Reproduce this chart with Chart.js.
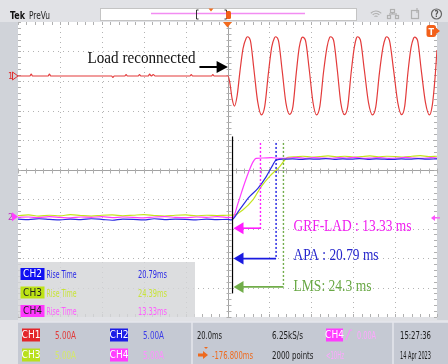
<!DOCTYPE html>
<html><head><meta charset="utf-8">
<script src="https://cdn.jsdelivr.net/npm/chart.js@4.4.0/dist/chart.umd.min.js"></script>
<style>html,body{margin:0;padding:0;background:#dfe0e4;}canvas{display:block}</style>
</head><body>
<canvas id="scope" width="448" height="364"></canvas>
<script>
// Horizontal axis: time in ms (20 ms/div, trigger at 0). Vertical axis: screen divisions.
const timeSpan = [-100, 100];
const divSpan = [-5, 5];

// CH1 – load current, flat before reconnection, then AC
const ch1Trace = [
  [-100,3.17],[-94.3,3.17],[-93.7,3.23],[-93.1,3.17],[-85.6,3.17],[-85,3.23],[-84.4,3.17],
  [-55.3,3.17],[-54.7,3.12],[-54.1,3.17],[-49,3.17],[-48.4,3.22],[-47.8,3.17],[-42.6,3.17],[-42,3.22],
  [-41.4,3.17],[-37.8,3.17],[-37.2,3.23],[-36.4,3.17],[-35.4,3.22],[-34.6,3.17],[-17.9,3.17],[-17.3,3.22],
  [-16.7,3.17],[-7.6,3.17],[-7,3.22],[-6.4,3.17],[0.3,3.17],
  [1.2,2.9],[2.2,2.4],[3.3,2.15],[4.6,2.5],[5.9,3.3],[7.4,4.1],[8.9,4.45],[9.5,4.5],[10.9,4.38],[12.6,3.4],[14.4,2.3],[16.2,1.85],
  [17.8,2.15],[19.5,3.25],[21.1,4.15],[22.4,4.46],[22.9,4.5],[24.3,4.38],[26.1,3.35],[27.9,2.25],[29.6,1.87],
  [31.2,2.12],[32.8,3.25],[34.2,4.12],[35.3,4.45],[35.8,4.49],[37.2,4.38],[39,3.4],[40.8,2.28],[42.5,1.85],
  [44.1,2.15],[45.8,3.28],[47.5,4.15],[48.7,4.47],[49.2,4.5],[50.6,4.39],[52.4,3.38],[54.1,2.25],[55.8,1.86],
  [57.4,2.14],[59,3.27],[60.5,4.13],[61.5,4.45],[62,4.5],[63.4,4.4],[65.3,3.38],[67.3,2.27],[69.2,1.85],
  [70.8,2.13],[72.5,3.26],[74.2,4.14],[75.4,4.46],[75.9,4.5],[77.3,4.38],[79.3,3.36],[81.3,2.26],[83.1,1.86],
  [84.6,2.15],[86.1,3.27],[87.6,4.13],[88.8,4.45],[89.3,4.49],[90.7,4.38],[92.5,3.36],[94.5,2.27],[96.4,1.85],
  [97.8,2.2],[99,3.05],[100,4.05]
];

// CH2 – APA
const ch2Trace = [
  [-100,-1.68],[-95,-1.70],[-90,-1.67],[-85,-1.69],[-80,-1.71],[-75,-1.68],[-70,-1.70],[-65,-1.67],[-60,-1.69],[-55,-1.72],
  [-50,-1.68],[-45,-1.69],[-40,-1.71],[-35,-1.67],[-30,-1.70],[-25,-1.68],[-20,-1.69],[-15,-1.71],[-10,-1.68],[-5,-1.70],[0,-1.69],
  [1.8,-1.71],[5.7,-1.37],[10.5,-0.92],[14.5,-0.64],[18.5,-0.24],[21.6,0.15],[23.2,0.32],
  [27,0.35],[31,0.36],[35,0.34],[39,0.36],[43,0.35],[47,0.37],[51,0.34],[55,0.36],[59,0.35],[63,0.37],[67,0.34],
  [71,0.36],[75,0.35],[79,0.34],[83,0.36],[87,0.35],[91,0.37],[95,0.35],[100,0.36]
];

// CH3 – LMS
const ch3Trace = [
  [-100,-1.56],[-95,-1.54],[-90,-1.58],[-85,-1.55],[-80,-1.57],[-75,-1.53],[-70,-1.56],[-65,-1.58],[-60,-1.55],[-55,-1.54],
  [-50,-1.57],[-45,-1.55],[-40,-1.53],[-35,-1.56],[-30,-1.58],[-25,-1.55],[-20,-1.54],[-15,-1.57],[-10,-1.55],[-5,-1.56],[0,-1.55],
  [3.3,-1.54],[7.3,-1.37],[12.1,-1.03],[16.1,-0.58],[20.0,-0.24],[24.8,0.09],[28.8,0.41],
  [32,0.43],[36,0.45],[40,0.42],[44,0.44],[48,0.46],[52,0.43],[56,0.45],[60,0.42],[64,0.44],[68,0.46],[72,0.43],
  [76,0.45],[80,0.44],[84,0.42],[88,0.45],[92,0.47],[96,0.44],[100,0.45]
];

// CH4 – GRF-LAD
const ch4Trace = [
  [-100,-1.62],[-95,-1.61],[-90,-1.63],[-85,-1.60],[-80,-1.62],[-75,-1.64],[-70,-1.61],[-65,-1.62],[-60,-1.60],[-55,-1.63],
  [-50,-1.61],[-45,-1.62],[-40,-1.64],[-35,-1.61],[-30,-1.60],[-25,-1.62],[-20,-1.63],[-15,-1.61],[-10,-1.62],[-5,-1.60],[0,-1.62],
  [2.5,-1.63],[5,-1.15],[7.5,-0.6],[10,-0.1],[12.2,0.26],[13.7,0.38],
  [17,0.39],[21,0.40],[25,0.38],[29,0.39],[33,0.41],[37,0.38],[41,0.40],[45,0.39],[49,0.38],[53,0.40],[57,0.39],
  [61,0.41],[65,0.38],[69,0.39],[73,0.40],[77,0.38],[81,0.39],[85,0.41],[89,0.39],[93,0.38],[97,0.40],[100,0.39]
];

// Rise-time measurement table
const measChannels = ['CH2', 'CH3', 'CH4'];
const measNames = ['Rise Time', 'Rise Time', 'Rise Time'];
const measValues = [20.79, 24.39, 13.33];

// Callouts: rise time per controller, measured from the step start
const riseStart = 2.4;
const calloutNames = ['GRF-LAD', 'APA', 'LMS'];
const calloutRise = [13.33, 20.79, 24.3];
const calloutLabels = ['GRF-LAD : 13.33 ms', 'APA : 20.79 ms', 'LMS: 24.3 ms'];
const eventLabel = 'Load reconnected';

// Acquisition settings
const chNames = ['CH1', 'CH2', 'CH3', 'CH4'];
const chScales = ['5.00A', '5.00A', '5.00A', '5.00A'];
const acqInfo = ['20.0ms', '6.25kS/s', '-176.800ms', '2000 points'];
const trigInfo = ['CH4', '0.00A', '<10Hz'];
const stamp = ['15:27:36', '14 Apr 2023'];

const UI = "'Liberation Sans Narrow','DejaVu Sans Condensed','Roboto Condensed',Roboto,sans-serif";
const SERIF = "'Liberation Serif','Times New Roman',serif";

function txt(ctx, s, x, y, color, font, targetW, align) {
  ctx.save();
  ctx.font = font;
  ctx.fillStyle = color;
  ctx.textBaseline = 'alphabetic';
  ctx.textAlign = 'left';
  const w = ctx.measureText(s).width;
  const sx = targetW ? targetW / w : 1;
  let x0 = x;
  if (align === 'right') x0 = x - w * sx;
  ctx.translate(x0, y);
  ctx.scale(sx, 1);
  ctx.fillText(s, 0, 0);
  ctx.restore();
}
function poly(ctx, pts, fill, stroke) {
  ctx.beginPath();
  ctx.moveTo(pts[0][0], pts[0][1]);
  for (let i = 1; i < pts.length; i++) ctx.lineTo(pts[i][0], pts[i][1]);
  ctx.closePath();
  if (fill) { ctx.fillStyle = fill; ctx.fill(); }
  if (stroke) { ctx.strokeStyle = stroke; ctx.stroke(); }
}
function seg(ctx, x1, y1, x2, y2) { ctx.beginPath(); ctx.moveTo(x1, y1); ctx.lineTo(x2, y2); ctx.stroke(); }
function badge(ctx, x, y, w, h, bg, label, fg) {
  ctx.fillStyle = bg; ctx.fillRect(x, y, w, h);
  ctx.save();
  ctx.font = '10px ' + UI; ctx.fillStyle = fg; ctx.textAlign = 'center'; ctx.textBaseline = 'middle';
  ctx.fillText(label, x + w / 2, y + h / 2 + 0.5);
  ctx.restore();
}

const scopePlugin = {
  id: 'scope',
  beforeDraw(chart) {
    const ctx = chart.ctx, a = chart.chartArea;
    const xs = chart.scales.x, ys = chart.scales.y;
    ctx.save();
    ctx.fillStyle = '#e1e2e6'; ctx.fillRect(0, 0, 448, 364);
    ctx.fillStyle = '#d0d3d9';
    ctx.fillRect(0, a.top, a.left, a.bottom - a.top + 3);
    ctx.fillRect(a.right, a.top, 448 - a.right, a.bottom - a.top + 3);
    ctx.fillStyle = '#ffffff'; ctx.fillRect(a.left, a.top, a.right - a.left, a.bottom - a.top);

    // dotted graticule
    ctx.strokeStyle = '#b3b3b3'; ctx.lineWidth = 1; ctx.setLineDash([1, 4]);
    for (let k = -4; k <= 4; k++) {
      if (k === 0) continue;
      const x = Math.round(xs.getPixelForValue(k * 20)) + 0.5;
      seg(ctx, x, a.top, x, a.bottom);
      const y = Math.round(ys.getPixelForValue(k)) + 0.5;
      seg(ctx, a.left, y, a.right, y);
    }
    ctx.setLineDash([]);
    const x0 = Math.round(xs.getPixelForValue(0)) + 0.5, y0 = Math.round(ys.getPixelForValue(0)) + 0.5;
    ctx.strokeStyle = '#a2a2a2';
    seg(ctx, x0, a.top, x0, a.bottom);
    seg(ctx, a.left, y0, a.right, y0);
    // minor ticks on the frame and the centre cross
    ctx.strokeStyle = '#b0b0b0';
    for (let k = -25; k <= 25; k++) {
      const x = Math.round(xs.getPixelForValue(k * 4)) + 0.5;
      seg(ctx, x, a.top, x, a.top + 3);
      seg(ctx, x, a.bottom - 3, x, a.bottom);
      seg(ctx, x, y0 - 2, x, y0 + 3);
      const y = Math.round(ys.getPixelForValue(k / 5)) + 0.5;
      seg(ctx, a.left, y, a.left + 3, y);
      seg(ctx, a.right - 3, y, a.right, y);
      seg(ctx, x0 - 2, y, x0 + 3, y);
    }
    ctx.restore();
  },
  afterDraw(chart) {
    const ctx = chart.ctx, a = chart.chartArea;
    const X = v => chart.scales.x.getPixelForValue(v);
    const Y = v => chart.scales.y.getPixelForValue(v);
    ctx.save();

    // step start marker
    const xs0 = X(riseStart);
    ctx.strokeStyle = '#000'; ctx.lineWidth = 1.2;
    seg(ctx, xs0, Y(1.12), xs0, Y(-4.2));

    // rise-time cursors, arrows and labels
    const cColors = ['#ff1cff', '#1a1ae0', '#71ad4a'];
    const tColors = ['#f020f0', '#2626cc', '#69a845'];
    const cTop = [0.9, 0.9, 0.9];
    const cBottom = [-2.05, -3.0, -4.0];
    const aLevel = [-1.99, -3.02, -3.98];
    const tBase = [230.5, 260, 290.5];
    const tWidth = [118, 85, 78];
    for (let i = 0; i < calloutRise.length; i++) {
      const xc = X(riseStart + calloutRise[i]);
      ctx.strokeStyle = cColors[i]; ctx.lineWidth = 1.4; ctx.setLineDash([2, 2]);
      seg(ctx, xc, Y(cTop[i]), xc, Y(cBottom[i]));
      ctx.setLineDash([]);
      const ya = Y(aLevel[i]);
      ctx.lineWidth = 1.6;
      seg(ctx, xc, ya, xs0 + 9, ya);
      poly(ctx, [[xs0 + 1, ya], [xs0 + 11, ya - 6], [xs0 + 11, ya + 6]], cColors[i]);
      txt(ctx, calloutLabels[i], X(31.5), tBase[i], tColors[i], '17px ' + SERIF, tWidth[i]);
    }

    // event annotation
    txt(ctx, eventLabel, X(-66.8), 62.5, '#111', '17px ' + SERIF, 108);
    ctx.strokeStyle = '#000'; ctx.lineWidth = 2;
    seg(ctx, X(-13.4), 67, X(-4.5), 67);
    poly(ctx, [[X(0.2), 67], [X(-5.2), 61], [X(-5.2), 73]], '#000');

    // measurement table
    ctx.fillStyle = 'rgba(212,213,216,0.82)';
    ctx.fillRect(a.left, 262, 177, a.bottom - 262);
    const mBg = ['#1010f2', '#bde314', '#ff38ff'];
    const mFg = ['#ffffff', '#222222', '#222222'];
    const mTxt = ['#2a2ae6', '#c9e43a', '#ff5cff'];
    for (let i = 0; i < measChannels.length; i++) {
      const yb = 268 + i * 18.5;
      badge(ctx, 20.5, yb, 24, 12, mBg[i], measChannels[i], mFg[i]);
      txt(ctx, measNames[i], 46.5, yb + 10, mTxt[i], '10px ' + UI, 30);
      txt(ctx, measValues[i].toFixed(2) + 'ms', 167, yb + 10, mTxt[i], '10px ' + UI, 29, 'right');
    }

    // channel offset markers
    ctx.lineWidth = 1;
    txt(ctx, '1', 8, Y(3.17) + 3.5, '#e03030', '9px ' + UI);
    poly(ctx, [[12.5, Y(3.17) - 4], [12.5, Y(3.17) + 4], [18, Y(3.17)]], null, '#e03030');
    txt(ctx, '2', 8, Y(-1.6) + 3.5, '#c030c0', '9px ' + UI);
    poly(ctx, [[12, Y(-1.6) - 4.5], [12, Y(-1.6) + 4.5], [18, Y(-1.6)]], '#ff40ff');
    // trigger level marker on the right
    ctx.strokeStyle = '#ff50ff'; ctx.lineWidth = 1.2;
    seg(ctx, 433, Y(-1.64), 440, Y(-1.64));
    poly(ctx, [[431, Y(-1.64)], [435, Y(-1.64) - 3], [435, Y(-1.64) + 3]], '#ff50ff');
    // trigger position marker
    const xt = X(0);
    poly(ctx, [[xt - 4.5, a.top], [xt + 4.5, a.top], [xt, a.top + 5.5]], '#f26a1c');
    // trigger flag
    ctx.fillStyle = '#f2601a';
    ctx.beginPath(); ctx.roundRect(426.5, 25, 9.5, 12, 2.5); ctx.fill();
    poly(ctx, [[435.5, 27.5], [440, 31], [435.5, 34.5]], '#f2601a');
    ctx.save(); ctx.font = 'bold 9px ' + UI; ctx.fillStyle = '#fff'; ctx.textAlign = 'center';
    ctx.fillText('T', 431.3, 34.5); ctx.restore();

    // top bar
    ctx.fillStyle = '#e1e2e6'; ctx.fillRect(0, 0, 448, a.top);
    txt(ctx, 'Tek', 10, 19, '#111', 'bold 11px ' + UI, 15);
    txt(ctx, 'PreVu', 29, 19, '#222', '10px ' + UI, 21);
    ctx.fillStyle = '#fff'; ctx.fillRect(100, 8, 257, 13);
    ctx.strokeStyle = '#c4c4c4'; ctx.lineWidth = 1; ctx.strokeRect(100.5, 8.5, 256, 12);
    ctx.strokeStyle = '#f28cf2'; ctx.lineWidth = 1.5; seg(ctx, 151, 13.5, 305, 13.5);
    ctx.strokeStyle = '#333'; ctx.lineWidth = 1;
    seg(ctx, 196.5, 10, 196.5, 19); seg(ctx, 196.5, 10, 198.5, 10); seg(ctx, 196.5, 19, 198.5, 19);
    seg(ctx, 226.5, 10, 226.5, 19); seg(ctx, 226.5, 10, 224.5, 10); seg(ctx, 226.5, 19, 224.5, 19);
    poly(ctx, [[208.5, 8.5], [213.5, 8.5], [211, 11.5]], '#f26a1c');
    ctx.fillStyle = '#f2601a'; ctx.beginPath(); ctx.roundRect(226, 11, 5, 8, 1.5); ctx.fill();
    // status icons
    ctx.strokeStyle = '#b0b0b0'; ctx.lineWidth = 1.2;
    for (let r = 2; r <= 7; r += 2.5) { ctx.beginPath(); ctx.arc(376, 18, r, -2.4, -0.74); ctx.stroke(); }
    ctx.strokeRect(390.5, 9.5, 4, 3); ctx.strokeRect(387.5, 15.5, 3, 3); ctx.strokeRect(395.5, 15.5, 3, 3);
    seg(ctx, 392.5, 12.5, 392.5, 14); seg(ctx, 389, 14, 397, 14);
    ctx.strokeRect(411.5, 10.5, 7, 8);
    seg(ctx, 417, 8, 417, 13);
    ctx.strokeStyle = '#666'; ctx.beginPath(); ctx.arc(436.5, 14, 5, 0, Math.PI * 2); ctx.stroke();
    ctx.save(); ctx.font = 'bold 8px ' + UI; ctx.fillStyle = '#555'; ctx.textAlign = 'center';
    ctx.fillText('?', 436.5, 17); ctx.restore();

    // bottom settings panel
    ctx.fillStyle = '#e1e2e6'; ctx.fillRect(0, 320, 448, 44);
    ctx.fillStyle = '#c5c9d3'; ctx.fillRect(18, 322, 430, 42);
    ctx.strokeStyle = '#e4e6ec'; ctx.lineWidth = 1.5;
    seg(ctx, 192, 322, 192, 364); seg(ctx, 393, 322, 393, 364);
    seg(ctx, 18, 322, 448, 322);
    const r1 = 339, r2 = 359;
    const bBg = ['#e3262a', '#1c1ce6', '#b9e01c', '#ff3cff'];
    const bTx = ['#e23a3a', '#3c3ce8', '#d5e86a', '#ff8eff'];
    const bx = [22, 110, 22, 110], by = [r1 - 10.5, r1 - 10.5, r2 - 10.5, r2 - 10.5], tx = [55, 143, 55, 143];
    for (let i = 0; i < 4; i++) {
      badge(ctx, bx[i], by[i], 18, 13, bBg[i], chNames[i], '#ffffff');
      txt(ctx, chScales[i], tx[i], by[i] + 10.5, bTx[i], '10.5px ' + UI, 21);
    }
    txt(ctx, acqInfo[0], 197, r1, '#1c1c1c', '10.5px ' + UI, 25);
    txt(ctx, acqInfo[1], 272, r1, '#1c1c1c', '10.5px ' + UI, 31);
    txt(ctx, acqInfo[2], 212, r2, '#ee6a1e', '10.5px ' + UI, 41);
    txt(ctx, acqInfo[3], 272, r2, '#1c1c1c', '10.5px ' + UI, 41.5);
    // horizontal position arrow
    ctx.fillStyle = '#ee6a1e'; ctx.fillRect(198, r2 - 5.5, 5, 3);
    poly(ctx, [[203, r2 - 8], [208, r2 - 4], [203, r2]], '#ee6a1e');
    poly(ctx, [[204, r2 - 12], [208, r2 - 12], [206, r2 - 10]], '#ee6a1e');
    // trigger settings
    badge(ctx, 326, r1 - 10.5, 17, 13, '#ff3cff', trigInfo[0], '#ffffff');
    ctx.strokeStyle = '#ff8eff'; ctx.lineWidth = 1.2;
    seg(ctx, 346, r1 + 1, 350, r1 - 9); seg(ctx, 350, r1 - 9, 352, r1 - 9);
    txt(ctx, trigInfo[1], 357, r1, '#ffa6ff', '10.5px ' + UI, 19);
    txt(ctx, trigInfo[2], 326, r2, '#ffa6ff', '10.5px ' + UI, 18);
    txt(ctx, stamp[0], 400, r1, '#1c1c1c', '10.5px ' + UI, 31);
    txt(ctx, stamp[1], 400, r2, '#1c1c1c', '10.5px ' + UI, 31);
    ctx.restore();
  }
};

const toXY = tr => tr.map(p => ({ x: p[0], y: p[1] }));
const traceStyle = (color) => ({
  borderColor: color, borderWidth: 1.2, pointRadius: 0, fill: false,
  cubicInterpolationMode: 'monotone'
});

new Chart(document.getElementById('scope'), {
  type: 'line',
  data: {
    datasets: [
      Object.assign({ label: 'CH2', data: toXY(ch2Trace) }, traceStyle('#2a2ae2')),
      Object.assign({ label: 'CH4', data: toXY(ch4Trace) }, traceStyle('#ff3cff')),
      Object.assign({ label: 'CH3', data: toXY(ch3Trace) }, traceStyle('#c4e41e')),
      Object.assign({ label: 'CH1', data: toXY(ch1Trace) }, traceStyle('#e33b3b'))
    ]
  },
  options: {
    responsive: false,
    animation: false,
    events: [],
    layout: { padding: { left: 18, right: 11, top: 22, bottom: 47 } },
    plugins: { legend: { display: false }, tooltip: { enabled: false } },
    scales: {
      x: { type: 'linear', min: timeSpan[0], max: timeSpan[1], display: false },
      y: { type: 'linear', min: divSpan[0], max: divSpan[1], display: false }
    }
  },
  plugins: [scopePlugin]
});
</script>
</body></html>
